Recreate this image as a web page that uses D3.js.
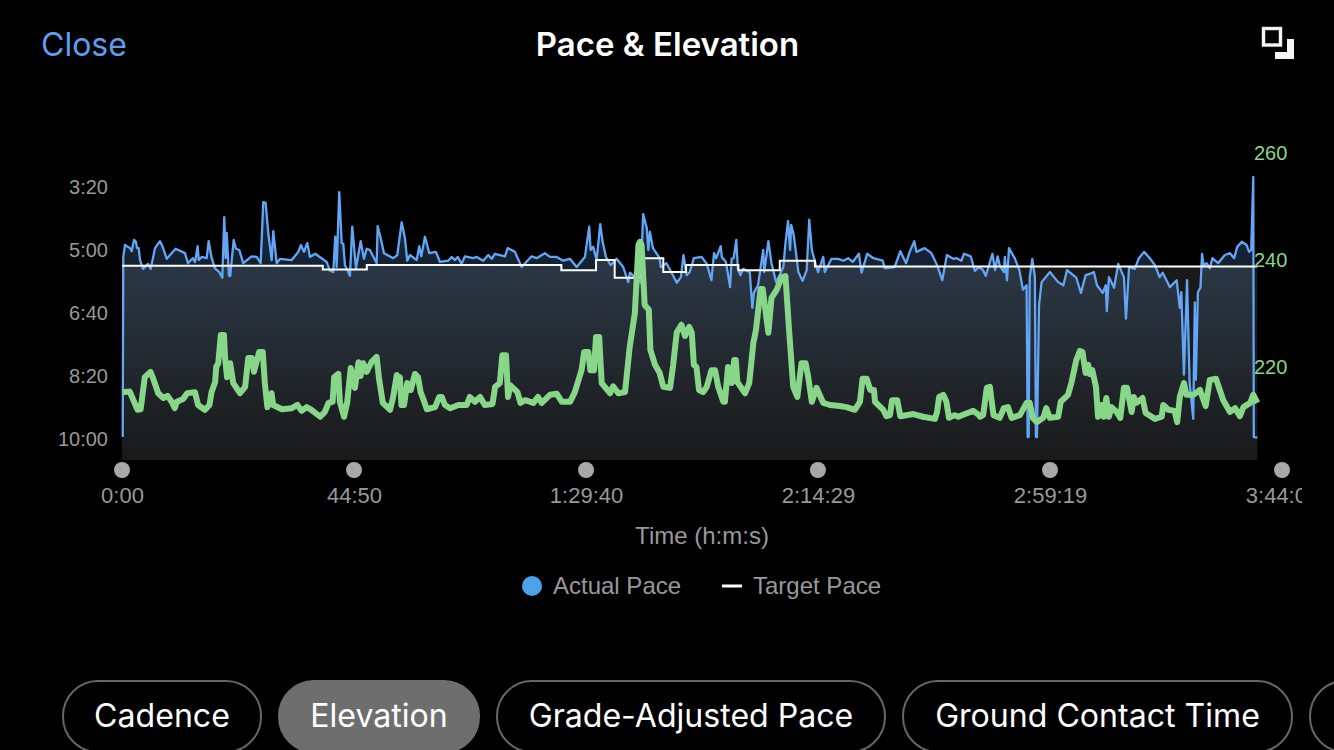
<!DOCTYPE html>
<html>
<head>
<meta charset="utf-8">
<title>Pace & Elevation</title>
<script src="https://cdn.jsdelivr.net/npm/d3@7"></script>
<style>
  html, body { margin: 0; background: #000; overflow: hidden; }
  svg { display: block; }
  text { font-family: 'Liberation Sans', sans-serif; }
  .ui { font-family: Inter, sans-serif; }
  .axis path, .axis line { display: none; }
</style>
</head>
<body>
<svg id="chart" width="1334" height="750"></svg>
<script>
// Time in minutes, pace in seconds per km, elevation in metres
const paceTimes = [0.14,0.25,0.58,1.55,1.87,2.32,2.70,2.90,3.23,3.48,4.06,4.77,5.02,5.54,6.38,7.34,7.86,8.64,10.37,12.17,12.75,13.66,14.10,14.63,14.82,15.40,16.36,16.75,17.33,17.97,18.80,19.38,19.76,20.03,20.23,20.67,20.92,21.58,22.02,22.66,23.43,25.06,26.02,26.80,27.30,27.76,28.26,28.92,29.23,29.89,30.53,32.79,34.06,34.58,35.16,35.80,36.32,37.35,39.55,40.19,40.82,41.21,41.48,41.98,42.45,42.76,43.08,44.05,44.49,45.21,46.12,46.75,47.28,47.91,49.21,49.40,49.98,50.62,52.41,53.19,54.04,54.67,55.12,55.64,56.94,57.44,57.83,58.54,59.37,60.66,61.44,63.04,63.70,64.34,64.86,65.63,66.27,67.87,68.53,69.80,70.77,71.43,72.06,74.00,74.52,75.93,77.22,79.15,80.12,81.72,82.69,83.98,85.26,86.55,87.85,89.45,90.28,90.55,91.05,91.71,92.41,92.87,93.51,94.42,95.58,96.85,97.82,98.15,99.11,100.2,100.7,101.4,101.7,102.0,102.6,103.9,104.1,105.2,106.2,107.2,108.0,108.5,109.1,109.7,110.5,112.0,113.0,113.9,114.4,114.8,115.7,115.9,116.7,117.5,117.8,118.2,118.7,119.0,119.5,120.0,121.3,121.8,122.1,122.9,123.9,124.1,124.9,125.5,126.4,127.8,128.2,128.7,129.1,129.3,129.8,130.7,131.5,132.3,132.8,133.3,134.2,134.5,135.5,135.8,137.1,138.4,139.4,140.3,141.2,142.4,142.9,144.0,145.2,147.0,147.4,149.3,150.4,151.5,152.2,153.1,153.5,155.1,156.4,157.5,158.5,159.4,160.6,161.3,162.2,162.7,164.0,164.8,165.6,166.4,166.9,168.2,168.7,169.2,169.6,170.4,170.6,171.0,171.4,172.5,173.4,174.1,174.8,175.0,175.2,175.4,175.9,176.4,176.6,176.8,177.2,177.7,179.3,180.9,181.9,182.6,184.4,185.3,186.2,187.0,187.8,188.4,189.5,190.1,190.3,190.7,191.7,192.5,193.6,194.0,194.6,195.7,196.5,197.5,198.6,199.6,200.5,201.1,202.5,203.8,204.4,204.7,205.2,205.8,206.3,207.0,207.3,207.5,207.9,208.4,208.7,209.0,209.6,210.2,210.7,211.8,213.1,214.1,214.9,215.5,216.4,217.3,217.8,218.2,218.6,218.7,219.4]
const paceValues = [597,311,292,297,302,284,287,297,297,316,330,324,322,330,297,286,295,314,298,305,321,313,319,294,316,311,313,286,313,329,335,344,248,313,273,341,341,284,298,300,321,310,311,321,224,225,273,316,270,321,314,316,303,292,303,289,311,306,319,333,335,279,327,208,289,290,324,341,263,329,286,314,298,300,321,262,281,305,313,308,256,281,317,308,316,294,310,279,305,303,319,317,311,316,311,322,310,313,311,317,308,314,306,310,297,303,327,310,313,305,311,311,317,314,327,311,263,300,295,316,259,287,311,324,314,327,351,336,343,352,243,265,300,271,297,313,327,321,336,352,343,308,340,335,313,311,322,348,305,313,294,311,319,359,314,313,284,329,340,330,335,392,368,356,300,335,286,321,351,327,289,254,300,260,276,335,349,332,252,300,327,335,311,335,314,314,317,313,319,306,336,306,313,317,329,327,302,321,303,286,303,297,305,324,348,308,314,313,317,306,310,333,327,332,341,306,332,310,324,335,311,348,297,313,332,363,356,597,597,343,314,343,597,597,387,351,335,351,356,332,344,368,340,338,335,356,368,356,397,343,360,322,343,409,327,330,313,303,313,324,343,336,359,348,392,367,498,348,511,568,383,506,367,359,306,324,321,329,313,321,308,305,313,295,287,292,303,300,184,597,598]

const targetTimes = [0,38.8,47.3,84.9,91.6,95.2,100.2,104.6,109.0,119.1,127.1,133.9,219.4]
const targetValues = [325,331,324,332,316,344,313,335,324,332,317,326,326]

const elevTimes = [0.1,1.5,2.2,3.0,3.6,4.4,5.5,6.0,7.0,8.0,8.8,9.6,10.2,10.6,11.8,12.6,14.1,14.7,16.0,16.9,17.3,18.0,18.2,18.6,19.1,19.7,19.9,20.3,20.9,21.5,22.8,23.8,24.4,25.1,25.5,26.5,27.2,27.6,28.1,28.9,29.2,30.9,32.8,33.9,34.7,35.7,36.6,38.3,39.2,39.9,40.7,41.0,41.8,42.1,42.9,43.5,44.2,45.0,45.7,46.1,46.6,47.3,48.2,49.2,49.7,50.4,51.8,52.4,53.1,53.5,53.7,54.0,54.5,55.1,55.8,56.6,57.2,57.7,58.3,58.9,60.5,61.3,61.8,62.4,63.4,65.0,66.6,67.2,68.2,69.2,70.1,71.6,72.1,73.0,73.5,74.2,74.6,75.0,76.4,77.0,77.9,79.5,80.4,81.1,82.7,84.0,85.0,86.6,87.5,88.8,89.3,90.1,90.5,91.2,91.6,92.2,92.7,94.3,94.9,95.9,97.2,98.1,99.1,99.8,100.1,100.4,101.0,101.8,102.1,103.0,103.9,104.6,105.9,106.5,107.2,108.1,108.8,109.6,109.7,110.1,110.5,111.0,111.5,112.3,113.0,113.9,114.6,115.2,116.2,116.5,117.1,117.8,118.3,118.6,118.9,120.4,121.2,122.0,122.5,123.4,123.8,124.2,124.9,125.5,126.5,127.5,128.2,128.9,129.7,130.5,131.3,132.1,132.6,133.3,134.2,135.0,135.5,136.8,138.7,140.0,141.6,142.6,143.1,143.9,144.6,145.3,145.5,147.1,147.7,148.4,148.8,149.8,150.4,152.9,154.8,157.1,157.5,157.9,158.7,159.3,159.8,160.9,161.6,162.9,164.5,165.6,165.8,166.4,167.1,167.7,168.4,169.6,170.4,171.2,171.9,173.5,174.8,175.4,176.0,176.8,178.0,178.6,179.3,180.9,181.4,182.8,183.5,184.4,185.1,185.6,186.2,186.7,187.0,187.5,188.2,188.6,189.3,189.7,190.2,190.7,191.2,192.2,192.9,193.6,194.2,195.1,195.5,196.0,197.2,197.8,199.6,200.9,201.2,202.2,203.4,203.9,204.4,205.2,205.7,207.0,208.3,209.4,210.2,211.4,212.8,214.1,215.1,216.0,216.7,218.0,218.6,219.4]
const elevValues = [215.3,215.4,213.8,212.0,212.1,218.1,219.1,217.9,215.1,214.2,214.6,213.5,212.3,213.5,214.0,215.1,215.3,212.9,212.0,212.9,215.3,217.2,220.0,220.7,226.0,226.0,221.9,218.1,220.7,217.0,215.1,216.3,221.7,221.7,219.1,222.8,222.8,217.0,212.5,215.1,212.9,212.1,212.3,212.9,211.8,212.5,212.0,210.7,211.6,213.3,213.5,218.1,218.7,213.5,210.7,213.3,219.8,216.1,220.9,218.3,220.7,219.1,220.9,221.9,217.6,213.3,212.0,214.4,218.5,217.0,218.1,212.9,212.9,217.0,215.7,218.7,218.1,215.3,213.8,212.1,212.5,214.4,214.4,212.9,212.3,212.9,212.9,214.4,213.5,214.4,212.9,213.1,216.3,217.0,222.2,222.2,214.4,216.6,215.3,213.3,213.8,213.3,214.4,213.3,214.8,215.0,213.5,213.5,215.3,219.4,222.8,222.8,219.4,219.4,225.6,225.6,217.0,215.1,216.4,215.1,215.3,223.7,230.1,242.8,243.4,242.8,231.6,230.7,223.2,220.4,218.9,216.3,216.1,220.4,226.5,227.9,225.8,227.5,227.3,226.4,220.4,220.0,215.7,215.3,216.3,219.4,219.4,216.3,213.5,213.5,220.0,217.0,221.3,221.3,217.2,215.1,217.0,224.5,226.9,234.6,234.6,231.6,226.4,232.9,234.4,236.8,237.0,226.9,216.3,214.4,220.7,220.7,218.1,213.5,216.1,214.4,213.3,212.9,212.7,212.5,212.0,213.5,217.8,217.8,215.7,215.7,213.5,212.0,210.8,211.0,213.8,213.8,210.8,211.2,210.7,210.3,211.6,214.4,214.8,213.5,210.5,211.0,210.7,211.2,211.8,211.0,210.7,211.0,216.1,216.3,211.0,210.5,212.3,212.5,210.5,211.0,213.3,213.3,210.5,209.7,210.5,212.3,210.5,210.7,213.5,214.8,217.2,221.3,223.0,222.8,218.9,220.4,218.7,219.4,216.3,210.7,212.9,210.7,214.2,210.7,212.5,211.6,210.5,216.1,216.1,211.6,214.4,213.3,214.2,211.4,210.3,210.7,212.9,212.0,211.8,209.7,214.4,217.0,214.8,214.8,215.7,212.7,217.6,217.8,213.8,211.6,212.3,210.8,212.5,213.3,214.8,213.3]

const timeTicks = [0, 44.83, 89.67, 134.48, 179.32, 224.15]
const timeLabels = ['0:00', '44:50', '1:29:40', '2:14:29', '2:59:19', '3:44:09']
const paceTicks = [200, 300, 400, 500, 600]
const paceLabels = ['3:20', '5:00', '6:40', '8:20', '10:00']
const elevTicks = [260, 240, 220]
const pillLabels = ['Cadence', 'Elevation', 'Grade-Adjusted Pace', 'Ground Contact Time', '']

const plotLeft = 122
const plotRight = 1258
const plotBottom = 460

const xs = d3.scaleLinear().domain([0, 224.15]).range([122, 1282])
const yPace = d3.scaleLinear().domain([200, 600]).range([187, 439])
const yElev = d3.scaleLinear().domain([260, 220]).range([153, 367])

const svg = d3.select('#chart')

function renderHeader() {
  svg.append('text').attr('class', 'ui').attr('x', 41).attr('y', 55.5)
    .attr('font-size', 32).attr('fill', '#5c9ff0').text('Close')
  svg.append('text').attr('class', 'ui').attr('x', 667.5).attr('y', 55.5)
    .attr('text-anchor', 'middle').attr('font-size', 33).attr('font-weight', 600)
    .attr('fill', '#fff').text('Pace & Elevation')

  svg.append('rect').attr('x', 1263.5).attr('y', 28.5).attr('width', 17).attr('height', 16.5)
    .attr('fill', 'none').attr('stroke', '#f5f5f5').attr('stroke-width', 3.4)
  svg.append('path').attr('d', 'M1287 39H1294V59H1275V52H1287Z').attr('fill', '#f5f5f5')
}

function renderGradients() {
  let defs = svg.append('defs')
  let grad = defs.append('linearGradient').attr('id', 'paceFill')
    .attr('gradientUnits', 'userSpaceOnUse')
    .attr('x1', 0).attr('x2', 0).attr('y1', 177).attr('y2', plotBottom)
  grad.append('stop').attr('offset', 0).attr('stop-color', '#5ea0ee').attr('stop-opacity', 0.3)
  grad.append('stop').attr('offset', 1).attr('stop-color', '#5ea0ee').attr('stop-opacity', 0)

  defs.append('clipPath').attr('id', 'plotClip').append('rect')
    .attr('x', plotLeft).attr('y', 0).attr('width', plotRight - plotLeft).attr('height', plotBottom)
  defs.append('clipPath').attr('id', 'labelClip').append('rect')
    .attr('x', 0).attr('y', 470).attr('width', 1302).attr('height', 40)
}

function renderPlot() {
  let plot = svg.append('g').attr('clip-path', 'url(#plotClip)')

  let paceArea = d3.area()
    .x((d, i) => xs(paceTimes[i]))
    .y0(plotBottom)
    .y1((d) => yPace(d))
  let targetArea = d3.area()
    .curve(d3.curveStepAfter)
    .x((d, i) => xs(targetTimes[i]))
    .y0(plotBottom)
    .y1((d) => yPace(d))

  plot.append('path').datum(paceValues).attr('d', paceArea).attr('fill', 'url(#paceFill)')
  plot.append('path').datum(targetValues).attr('d', targetArea)
    .attr('fill', '#fff').attr('fill-opacity', 0.1)

  let paceLine = d3.line().x((d, i) => xs(paceTimes[i])).y((d) => yPace(d))
  let targetLine = d3.line().curve(d3.curveStepAfter)
    .x((d, i) => xs(targetTimes[i])).y((d) => yPace(d))
  let elevLine = d3.line().x((d, i) => xs(elevTimes[i])).y((d) => yElev(d))

  svg.append('path').datum(paceValues).attr('d', paceLine)
    .attr('fill', 'none').attr('stroke', '#64a6f6').attr('stroke-width', 2.3).attr('stroke-linejoin', 'round')
  svg.append('path').datum(targetValues).attr('d', targetLine)
    .attr('fill', 'none').attr('stroke', '#fff').attr('stroke-width', 2)
  svg.append('path').datum(elevValues).attr('d', elevLine)
    .attr('fill', 'none').attr('stroke', '#88d688').attr('stroke-width', 6)
    .attr('stroke-linejoin', 'round')
}

function renderAxes() {
  svg.selectAll('circle.tick-dot').data(timeTicks).join('circle')
    .attr('class', 'tick-dot')
    .attr('cx', (d) => xs(d)).attr('cy', 470).attr('r', 8).attr('fill', '#a8a8a8')

  let xAxis = d3.axisBottom(xs).tickValues(timeTicks).tickSize(0).tickPadding(0)
    .tickFormat((d, i) => timeLabels[i])
  let xg = svg.append('g').attr('class', 'axis').attr('clip-path', 'url(#labelClip)')
    .append('g').attr('transform', 'translate(0, 488)').call(xAxis)
  xg.selectAll('text').attr('font-size', 22).attr('font-family', "'Liberation Sans'")
    .attr('fill', '#999').attr('dy', 0).attr('y', 15)

  let yAxis = d3.axisLeft(yPace).tickValues(paceTicks).tickSize(0).tickPadding(0)
    .tickFormat((d, i) => paceLabels[i])
  let yg = svg.append('g').attr('class', 'axis').attr('transform', 'translate(108, 0)').call(yAxis)
  yg.selectAll('text').attr('font-size', 20).attr('font-family', "'Liberation Sans'").attr('fill', '#999')

  let elevAxis = d3.axisRight(yElev).tickValues(elevTicks).tickSize(0).tickPadding(0)
  let eg = svg.append('g').attr('class', 'axis').attr('transform', 'translate(1254, 0)').call(elevAxis)
  eg.selectAll('text').attr('font-size', 20).attr('font-family', "'Liberation Sans'").attr('fill', '#88d688')

  svg.append('text').attr('x', 702).attr('y', 544).attr('text-anchor', 'middle')
    .attr('font-size', 24).attr('fill', '#999').text('Time (h:m:s)')
}

function renderLegend() {
  svg.append('circle').attr('cx', 532).attr('cy', 586).attr('r', 10).attr('fill', '#4aa3ea')
  svg.append('text').attr('x', 553).attr('y', 594).attr('font-size', 24).attr('fill', '#999').text('Actual Pace')
  svg.append('rect').attr('x', 722).attr('y', 584.5).attr('width', 20).attr('height', 3).attr('fill', '#fff')
  svg.append('text').attr('x', 753).attr('y', 594).attr('font-size', 24).attr('fill', '#999').text('Target Pace')
}

function renderPills() {
  const pillLeft = [63, 279, 497, 903, 1310]
  const pillWidth = [198, 200, 388, 389, 120]
  let pills = svg.append('g').selectAll('g').data(pillLabels).join('g')
  pills.append('rect')
    .attr('x', (d, i) => pillLeft[i]).attr('y', 681)
    .attr('width', (d, i) => pillWidth[i]).attr('height', 71).attr('rx', 35)
    .attr('fill', (d, i) => (i === 1 ? '#6e6e6e' : '#000'))
    .attr('stroke', (d, i) => (i === 1 ? '#6e6e6e' : '#666')).attr('stroke-width', 2)
  pills.append('text').attr('class', 'ui')
    .attr('x', (d, i) => pillLeft[i] + pillWidth[i] / 2).attr('y', 727)
    .attr('text-anchor', 'middle').attr('font-size', 32.1).attr('fill', '#fff')
    .text((d) => d)
}

renderGradients()
renderHeader()
renderPlot()
renderAxes()
renderLegend()
renderPills()
</script>
</body>
</html>
